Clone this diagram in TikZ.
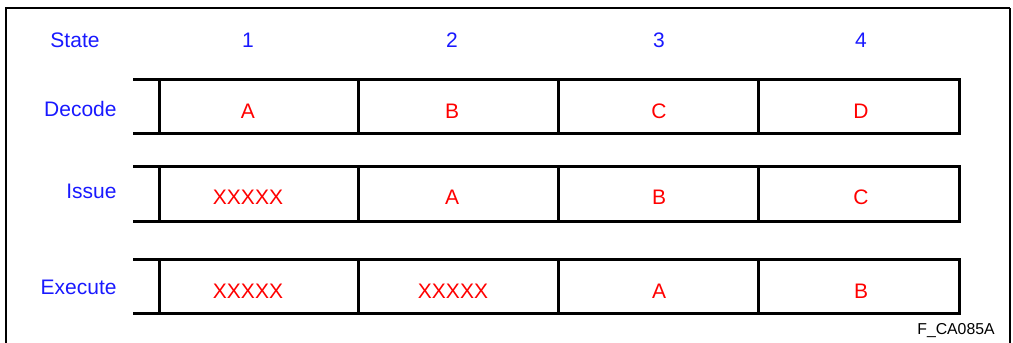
\documentclass[tikz,border=0pt]{standalone}
\usepackage{fontspec}
\setmainfont{Liberation Sans}
\definecolor{lblblue}{RGB}{25,25,255}
\definecolor{cellred}{RGB}{255,0,0}

\begin{document}
\begin{tikzpicture}[
    x=0.5pt, y=-0.5pt,
    rowlabel/.style = {anchor=base east, inner sep=0pt, text=lblblue, font=\fontsize{10.5}{12}\selectfont},
    statenum/.style = {anchor=base, inner sep=0pt, text=lblblue, font=\fontsize{10.5}{12}\selectfont},
    celltext/.style = {anchor=base, inner sep=0pt, text=cellred, font=\fontsize{10.5}{12}\selectfont},
    stageline/.style = {line width=1.5pt},
    frameline/.style = {line width=1pt}]

    \useasboundingbox (0,0) rectangle (1013,343);

    % outer frame
    \draw[frameline] (6,343) -- (6,8) -- (1010,8);
    \draw[line width=0.6pt] (1010,8) -- (1010,343);

    % header
    \node[anchor=base, inner sep=0pt, text=lblblue, font=\fontsize{10.5}{12}\selectfont] (state) at (75,47) {State};
    \node[statenum] (n1) at (248,47) {1};
    \node[statenum] (n2) at (452,47) {2};
    \node[statenum] (n3) at (659,47) {3};
    \node[statenum] (n4) at (861,47) {4};

    % decode row
    \draw[stageline] (133,79) -- (159,79) (133,133) -- (159,133);
    \draw[stageline] (159,79) rectangle (959,133);
    \draw[stageline] (358,79) -- (358,133) (558,79) -- (558,133) (758,79) -- (758,133);
    \node[rowlabel] (decode) at (117,116) {Decode};
    \node[celltext] (d1) at (248,118) {A};
    \node[celltext] (d2) at (452,118) {B};
    \node[celltext] (d3) at (659,118) {C};
    \node[celltext] (d4) at (861,118) {D};

    % issue row
    \draw[stageline] (133,166) -- (159,166) (133,221) -- (159,221);
    \draw[stageline] (159,166) rectangle (959,221);
    \draw[stageline] (358,166) -- (358,221) (558,166) -- (558,221) (758,166) -- (758,221);
    \node[rowlabel] (issue) at (117,198.5) {Issue};
    \node[celltext] (i1) at (248,204) {XXXXX};
    \node[celltext] (i2) at (452,204) {A};
    \node[celltext] (i3) at (659,204) {B};
    \node[celltext] (i4) at (861,204) {C};

    % execute row
    \draw[stageline] (133,259) -- (159,259) (133,313) -- (159,313);
    \draw[stageline] (159,259) rectangle (959,313);
    \draw[stageline] (358,259) -- (358,313) (558,259) -- (558,313) (758,259) -- (758,313);
    \node[rowlabel] (execute) at (117,294) {Execute};
    \node[celltext] (e1) at (248,298) {XXXXX};
    \node[celltext] (e2) at (453,298) {XXXXX};
    \node[celltext] (e3) at (659,298) {A};
    \node[celltext] (e4) at (861,298) {B};

    \node[anchor=base, inner sep=0pt, font=\fontsize{7.9}{10}\selectfont] (figid) at (956,334) {F\_CA085A};
\end{tikzpicture}
\end{document}
